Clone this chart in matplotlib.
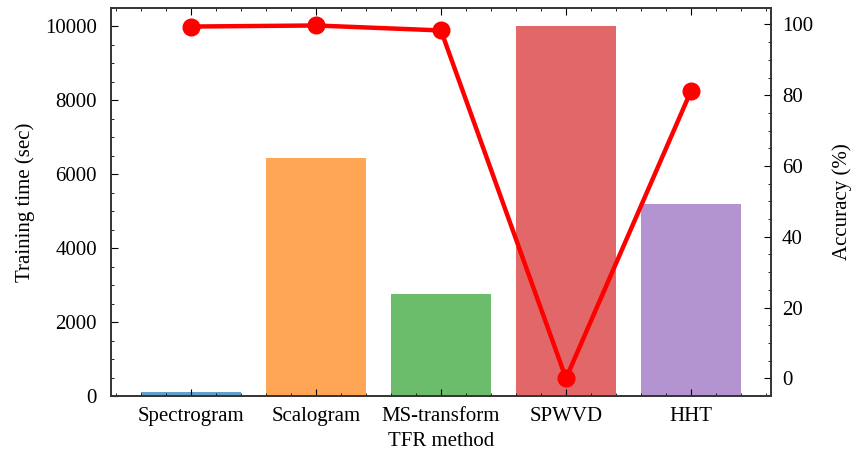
import numpy as np
import matplotlib
matplotlib.use("Agg")
import matplotlib.pyplot as plt
from matplotlib.ticker import MultipleLocator

plt.rcParams['font.family'] = ['Liberation Serif', 'DejaVu Serif']
plt.rcParams['font.size'] = 15

methods = ["Spectrogram", "Scalogram", "MS-transform", "SPWVD", "HHT"]
train_time = [100, 6450, 2750, 10000, 5200]
accuracy = [99.4, 99.7, 98.3, 0.0, 81.2]
bar_colors = ["tab:blue", "tab:orange", "tab:green", "tab:red", "tab:purple"]

fig = plt.figure(figsize=(8.51, 4.61), dpi=100)
ax = fig.add_axes([0.1304, 0.141, 0.7756, 0.842])

x = np.arange(len(methods))
ax.bar(x, train_time, width=0.8, color=bar_colors, alpha=0.7)
ax.set_xticks(x)
ax.set_xticklabels(methods)
ax.set_xlabel("TFR method", labelpad=4)
ax.set_ylabel("Training time (sec)", labelpad=7)
ax.xaxis.set_minor_locator(MultipleLocator(0.2))
ax.yaxis.set_major_locator(MultipleLocator(2000))
ax.yaxis.set_minor_locator(MultipleLocator(500))
ax.tick_params(which='both', direction='in', top=True, right=False)
ax.tick_params(axis='x', which='major', length=5, width=0.8, pad=8)
ax.tick_params(axis='y', which='major', length=5, width=0.8, pad=10)
ax.tick_params(which='minor', length=2.5, width=0.6)

ax2 = ax.twinx()
ax2.plot(x, accuracy, color="red", lw=3.2, marker='o', markersize=12)
ax2.set_ylabel("Accuracy (%)", labelpad=14)
ax2.yaxis.set_major_locator(MultipleLocator(20))
ax2.yaxis.set_minor_locator(MultipleLocator(5))
ax2.tick_params(which='both', direction='in')
ax2.tick_params(which='major', length=5, width=0.8, pad=8)
ax2.tick_params(which='minor', length=2.5, width=0.6)

for a in (ax, ax2):
    for s in a.spines.values():
        s.set_color("#333333")
        s.set_linewidth(1.2)

fig.savefig("out.png", dpi=100)
